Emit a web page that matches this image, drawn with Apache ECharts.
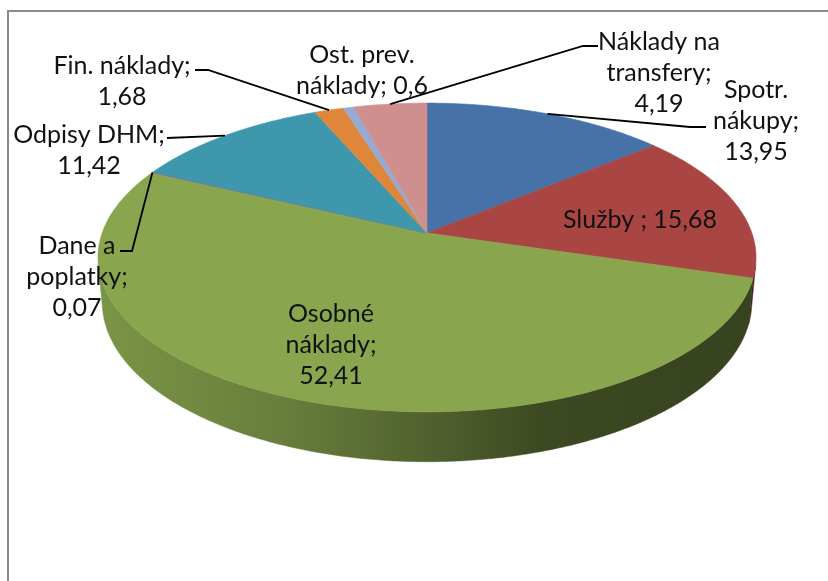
<!DOCTYPE html>
<html>
<head>
<meta charset="utf-8">
<script src="https://cdn.jsdelivr.net/npm/echarts@6/dist/echarts.min.js"></script>
<style>
html, body { margin: 0; padding: 0; background: #fff; }
#chart { width: 828px; height: 581px; }
</style>
</head>
<body>
<div id="chart"></div>
<script>
const names = ['Spotr. nákupy', 'Služby', 'Osobné náklady', 'Dane a poplatky', 'Odpisy DHM', 'Fin. náklady', 'Ost. prev. náklady', 'Náklady na transfery'];
const values = [13.95, 15.68, 52.41, 0.07, 11.42, 1.68, 0.6, 4.19];
const colors = ['#4672a8', '#a94543', '#89a54e', '#7e63a1', '#3f97ae', '#de873a', '#95abd4', '#cf8f8e'];

// label layout: words before the line break, separator before the value, text centre, leader bends
const labelLayout = [
  { brk: 1, sep: ';\n', x: 756, y: 121, leader: [[690, 127], [706, 127]] },
  { brk: 0, sep: ' ; ', x: 640, y: 220 },
  { brk: 1, sep: ';\n', x: 331, y: 345 },
  { brk: 2, sep: ';\n', x: 77, y: 277, leader: [[132, 251], [120, 251]] },
  { brk: 0, sep: ';\n', x: 89, y: 150, leader: [[167, 138]] },
  { brk: 0, sep: ';\n', x: 122, y: 81, leader: [[208, 70], [195, 70]] },
  { brk: 2, sep: '; ', x: 362, y: 70 },
  { brk: 2, sep: ';\n', x: 659, y: 73, leader: [[583, 46], [598, 46]] }
];

// 3d view of the pie
const view = { cx: 427, cy: 233, f: 1816, D: 5.59, alpha: 27.6 * Math.PI / 180, h: 0.156 };

function proj(theta, y) {
  const X = Math.sin(theta), Z = Math.cos(theta);
  const sa = Math.sin(view.alpha), ca = Math.cos(view.alpha);
  const depth = view.D + Z * ca - y * sa;
  const up = y * ca + Z * sa;
  return [view.cx + view.f * X / depth, view.cy - view.f * up / depth];
}

function arcPts(a1, a2, y) {
  const n = Math.max(2, Math.ceil((a2 - a1) / (Math.PI / 360)));
  const pts = [];
  for (let k = 0; k <= n; k++) pts.push(proj(a1 + (a2 - a1) * k / n, y));
  return pts;
}

function shade(hex, t) {
  const c = parseInt(hex.slice(1), 16);
  const r = Math.round((c >> 16 & 255) * t), g = Math.round((c >> 8 & 255) * t), b = Math.round((c & 255) * t);
  return 'rgb(' + r + ',' + g + ',' + b + ')';
}

function sideFill(hex) {
  return {
    type: 'linear', global: true, x: 98, y: 0, x2: 756, y2: 0,
    colorStops: [
      { offset: 0, color: shade(hex, 0.9) },
      { offset: 0.3, color: shade(hex, 0.75) },
      { offset: 0.68, color: shade(hex, 0.44) },
      { offset: 1, color: shade(hex, 0.4) }
    ]
  };
}

function fmt(v) { return String(v).replace('.', ','); }

function labelText(i) {
  const w = names[i].split(' ');
  const L = labelLayout[i];
  const nm = L.brk ? w.slice(0, L.brk).join(' ') + '\n' + w.slice(L.brk).join(' ') : names[i];
  return nm + L.sep + fmt(values[i]);
}

let acc = 0;
const sliceData = values.map(function (v, i) {
  const d = { name: names[i], value: [acc, acc + v, v] };
  acc += v;
  return d;
});
const total = acc;

function angles(api) {
  return [api.value(0) / total * 2 * Math.PI, api.value(1) / total * 2 * Math.PI];
}

// visible front part of the outer wall
const ca0 = Math.cos(view.alpha);
const vis1 = Math.acos(-1 / (view.D * ca0)), vis2 = 2 * Math.PI - vis1;

const chart = echarts.init(document.getElementById('chart'));

const option = {
  animation: false,
  backgroundColor: '#fff',
  graphic: [{
    type: 'rect', silent: true, z: 0,
    shape: { x: 8, y: 11, width: 840, height: 600 },
    style: { fill: null, stroke: '#8a8a8a', lineWidth: 2 }
  }],
  series: [
    {
      type: 'custom', coordinateSystem: 'none', silent: true, z: 1,
      data: sliceData,
      renderItem: function (params, api) {
        const a = angles(api);
        const a1 = Math.max(a[0], vis1), a2 = Math.min(a[1], vis2);
        if (a2 <= a1) return { type: 'group', children: [] };
        const top = arcPts(a1, a2, 0), bot = arcPts(a1, a2, -view.h).reverse();
        const fill = sideFill(colors[params.dataIndex]);
        return {
          type: 'polygon',
          shape: { points: top.concat(bot) },
          style: { fill: fill, stroke: fill, lineWidth: 0.5 }
        };
      }
    },
    {
      type: 'custom', coordinateSystem: 'none', silent: true, z: 2,
      data: sliceData,
      renderItem: function (params, api) {
        const a = angles(api);
        const pts = [[view.cx, view.cy]].concat(arcPts(a[0], a[1], 0));
        const c = colors[params.dataIndex];
        return {
          type: 'polygon',
          shape: { points: pts },
          style: { fill: c, stroke: c, lineWidth: 0.6 }
        };
      }
    },
    {
      type: 'custom', coordinateSystem: 'none', silent: true, z: 3,
      data: sliceData,
      renderItem: function (params, api) {
        const i = params.dataIndex;
        const a = angles(api);
        const L = labelLayout[i];
        const children = [];
        if (L.leader) {
          children.push({
            type: 'polyline',
            shape: { points: [proj((a[0] + a[1]) / 2, 0)].concat(L.leader) },
            style: { stroke: '#000', lineWidth: 1.8, fill: null }
          });
        }
        children.push({
          type: 'text', x: L.x, y: L.y,
          style: {
            text: labelText(i), fill: '#111', font: '25px Lato',
            align: 'center', verticalAlign: 'middle', lineHeight: 31
          }
        });
        return { type: 'group', children: children };
      }
    }
  ]
};

chart.setOption(option);
</script>
</body>
</html>
